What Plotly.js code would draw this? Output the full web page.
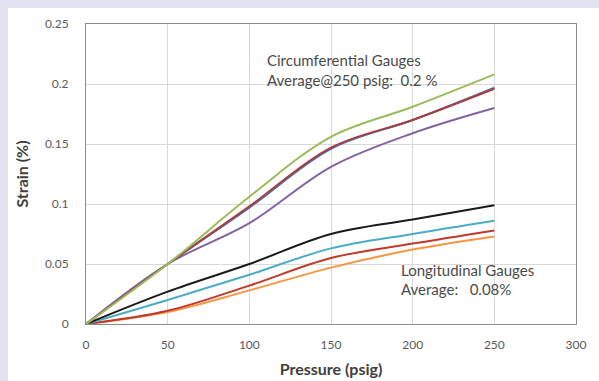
<!DOCTYPE html>
<html>
<head>
<meta charset="utf-8">
<script src="https://cdn.plot.ly/plotly-3.0.1.min.js"></script>
<style>
  html, body { margin: 0; padding: 0; background: #e2e2f2; width: 599px; height: 381px; overflow: hidden; }
  #chart { position: absolute; left: 8px; top: 8px; width: 591px; height: 373px; }
</style>
</head>
<body>
<div id="chart"></div>
<script>
const pressure = [0, 50, 100, 150, 200, 250];

// Circumferential gauges
const circGreen  = [0, 0.050, 0.106, 0.156, 0.181, 0.208];
const circBlue   = [0, 0.050, 0.097, 0.146, 0.170, 0.197];
const circRed    = [0, 0.050, 0.098, 0.147, 0.170, 0.196];
const circPurple = [0, 0.050, 0.084, 0.131, 0.159, 0.180];

// Longitudinal gauges
const longBlack  = [0, 0.027, 0.050, 0.075, 0.087, 0.099];
const longCyan   = [0, 0.020, 0.041, 0.063, 0.075, 0.086];
const longRed    = [0, 0.011, 0.032, 0.055, 0.067, 0.078];
const longOrange = [0, 0.010, 0.028, 0.047, 0.062, 0.073];

const xTicks = [0, 50, 100, 150, 200, 250, 300];
const yTicks = [0, 0.05, 0.1, 0.15, 0.2, 0.25];

const series = [
  [longOrange, '#f79646'],
  [longRed, '#c0392b'],
  [longCyan, '#4bacc6'],
  [longBlack, '#1a1a1a'],
  [circPurple, '#8064a2'],
  [circBlue, '#4f6fbd'],
  [circRed, '#a5403d'],
  [circGreen, '#9bbb59']
];

const traces = series.map(([ys, c]) => ({
  x: pressure, y: ys, type: 'scatter', mode: 'lines',
  line: { color: c, width: 2, shape: 'spline', smoothing: 1 },
  hoverinfo: 'none'
}));

const font = 'Lato, "Open Sans", sans-serif';
const annFont = { family: font, size: 15, color: '#4a4a4a' };

const layout = {
  width: 591, height: 373,
  margin: { l: 78, r: 23, t: 16, b: 57 },
  paper_bgcolor: '#ffffff', plot_bgcolor: '#ffffff',
  showlegend: false,
  font: { family: font, color: '#595959', size: 12 },
  xaxis: {
    range: [0, 300], tickvals: xTicks, ticktext: xTicks.map(String),
    showgrid: true, gridcolor: '#d9d9d9', gridwidth: 1,
    showline: true, linecolor: '#8c8c8c', linewidth: 1, mirror: true,
    zeroline: false, ticks: '', ticklen: 0, ticklabelstandoff: 10,
    tickfont: { family: font, size: 12, color: '#595959' },
    automargin: false,
    title: { text: '<b>Pressure (psig)</b>', font: { family: font, size: 16, color: '#404040' }, standoff: 12 }
  },
  yaxis: {
    range: [0, 0.25], tickvals: yTicks, ticktext: yTicks.map(String),
    showgrid: true, gridcolor: '#d9d9d9', gridwidth: 1,
    showline: true, linecolor: '#8c8c8c', linewidth: 1, mirror: true,
    zeroline: false, ticks: '', ticklen: 0, ticklabelstandoff: 14,
    tickfont: { family: font, size: 12, color: '#595959' },
    automargin: false,
    title: { text: '<b>Strain (%)</b>', font: { family: font, size: 16, color: '#404040' }, standoff: 12 }
  },
  annotations: [
    { x: 109.7, y: 0.22, xref: 'x', yref: 'y', xanchor: 'left', yanchor: 'middle', showarrow: false,
      text: 'Circumferential Gauges', font: annFont },
    { x: 109.7, y: 0.2035, xref: 'x', yref: 'y', xanchor: 'left', yanchor: 'middle', showarrow: false,
      text: 'Average@250 psig:  0.2 %', font: annFont },
    { x: 191.8, y: 0.045, xref: 'x', yref: 'y', xanchor: 'left', yanchor: 'middle', showarrow: false,
      text: 'Longitudinal Gauges', font: annFont },
    { x: 191.8, y: 0.029, xref: 'x', yref: 'y', xanchor: 'left', yanchor: 'middle', showarrow: false,
      text: 'Average:   0.08%', font: annFont }
  ]
};

Plotly.newPlot('chart', traces, layout, { displayModeBar: false, staticPlot: true });
</script>
</body>
</html>
